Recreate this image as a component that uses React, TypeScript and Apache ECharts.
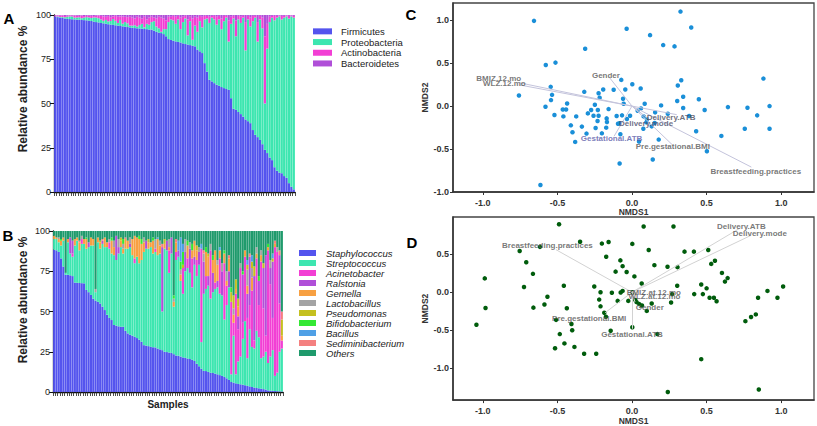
import React, { useEffect, useRef } from "react";
import * as echarts from "echarts";

const FONT = "'Liberation Sans', Arial, Helvetica, sans-serif";

// ---------- Panel A: phylum relative abundance (%) per sample ----------
const samples = Array.from({ length: 100 }, (_, i) => `S${i + 1}`);
const yTicksAB = [0, 25, 50, 75, 100];

const firmicutes = [99.2, 98.8, 98.5, 98.3, 98.0, 97.8, 97.7, 97.6, 97.5, 97.4, 97.3, 97.2, 97.1, 97.0, 96.8, 96.6, 96.3, 96.0, 95.8, 95.5, 95.3, 95.1, 94.8, 94.6, 94.4, 94.2, 94.0, 93.8, 93.6, 93.4, 93.2, 93.0, 92.8, 92.6, 92.5, 92.4, 92.3, 92.1, 92.0, 91.8, 91.7, 91.2, 90.5, 90.0, 89.8, 89.2, 88.0, 86.4, 85.9, 85.5, 85.1, 84.8, 84.5, 84.0, 83.6, 83.3, 83.0, 82.6, 82.3, 80.5, 79.5, 78.5, 72.8, 68.0, 63.4, 62.5, 61.5, 60.6, 60.0, 59.3, 58.7, 58.2, 57.7, 53.0, 47.0, 46.4, 45.2, 44.0, 42.6, 41.0, 40.0, 38.9, 35.0, 32.3, 31.0, 29.4, 27.0, 23.8, 22.0, 19.5, 18.0, 14.0, 12.0, 11.0, 10.6, 9.0, 8.0, 5.0, 3.0, 1.5];
const proteobacteria = [0, 0.4, 0.4, 0.5, 0.7, 1.2, 1.5, 1.6, 1.0, 1.2, 1.4, 1.0, 1.4, 1.8, 1.8, 1.7, 2.3, 2.6, 2.4, 2.0, 1.4, 2.1, 1.6, 2.0, 3.3, 2.5, 1.5, 3.4, 1.5, 2.6, 2.1, 1.0, 1.2, 1.6, 1.0, 1.9, 2.7, 0.9, 3.0, 2.7, 4.3, 5.3, 3.0, 2.5, 0.7, 2.8, 4.0, 9.6, 11.6, 11.5, 9.9, 12.7, 7.5, 12.0, 14.4, 5.2, 13.5, 3.4, 11.7, 10.0, 17.0, 14.5, 24.7, 30.0, 32.1, 36.0, 36.0, 33.9, 37.5, 32.7, 37.8, 40.3, 27.3, 42.0, 51.0, 41.6, 52.3, 51.5, 55.9, 39.0, 57.5, 54.6, 61.5, 66.2, 54.0, 68.1, 65.5, 26.2, 59.0, 76.5, 80.5, 83.0, 86.5, 88.2, 86.9, 89.5, 91.2, 93.0, 96.2, 97.0];
const actinobacteria = [0.5, 0.6, 0.8, 1.0, 0.8, 0.6, 0.5, 0.6, 1.2, 1.0, 0.8, 1.5, 0.9, 0.7, 1.0, 1.2, 0.8, 1.0, 1.5, 2.0, 2.5, 1.8, 3.0, 2.2, 1.5, 2.8, 3.5, 2.0, 4.0, 3.0, 3.5, 5.0, 4.5, 3.8, 5.5, 4.2, 3.0, 6.0, 2.5, 4.0, 3.0, 2.0, 4.5, 6.5, 8.0, 6.0, 5.0, 3.0, 1.5, 2.5, 4.0, 2.0, 6.5, 3.0, 1.5, 9.0, 2.5, 12.0, 5.0, 8.0, 3.0, 6.0, 2.0, 1.5, 3.5, 1.0, 2.0, 4.5, 2.0, 6.0, 3.0, 1.0, 12.0, 4.0, 1.5, 9.0, 2.0, 3.5, 1.0, 16.0, 2.0, 5.0, 3.0, 1.0, 11.0, 2.0, 6.0, 38.0, 14.0, 3.0, 1.0, 2.5, 1.0, 0.5, 2.0, 1.0, 0.5, 1.5, 0.5, 1.0];
const bacteroidetes = [0.3, 0.2, 0.3, 0.2, 0.5, 0.4, 0.3, 0.2, 0.3, 0.4, 0.5, 0.3, 0.6, 0.5, 0.4, 0.5, 0.6, 0.4, 0.3, 0.5, 0.8, 1.0, 0.6, 1.2, 0.8, 0.5, 1.0, 0.8, 0.9, 1.0, 1.2, 1.0, 1.5, 2.0, 1.0, 1.5, 2.0, 1.0, 2.5, 1.5, 1.0, 1.5, 2.0, 1.0, 1.5, 2.0, 3.0, 1.0, 1.0, 0.5, 1.0, 0.5, 1.5, 1.0, 0.5, 2.5, 1.0, 2.0, 1.0, 1.5, 0.5, 1.0, 0.5, 0.5, 1.0, 0.5, 0.5, 1.0, 0.5, 2.0, 0.5, 0.5, 3.0, 1.0, 0.5, 3.0, 0.5, 1.0, 0.5, 4.0, 0.5, 1.5, 0.5, 0.5, 4.0, 0.5, 1.5, 12.0, 5.0, 1.0, 0.5, 0.5, 0.5, 0.3, 0.5, 0.5, 0.3, 0.5, 0.3, 0.5];

const phylaNames = ["Firmicutes", "Proteobacteria", "Actinobacteria", "Bacteroidetes"];
const phylaColors = ["#5454ee", "#3de6b0", "#f23fd4", "#b04fd8"];

// ---------- Panel B: genus relative abundance (%) per sample ----------
const staphylococcus = [88.4, 88.0, 87.0, 83.0, 78.0, 72.8, 72.8, 72.5, 72.0, 68.0, 67.8, 67.7, 67.6, 67.5, 63.4, 62.0, 60.3, 58.0, 56.8, 56.0, 55.0, 53.0, 50.9, 48.0, 46.0, 44.7, 41.6, 41.2, 40.8, 40.5, 40.5, 38.0, 36.4, 35.5, 35.0, 34.3, 33.5, 32.5, 31.2, 29.1, 28.8, 28.5, 28.0, 27.8, 27.7, 27.0, 26.5, 26.0, 25.0, 24.8, 24.5, 24.3, 23.5, 22.7, 22.5, 22.0, 21.5, 21.2, 20.8, 20.5, 20.0, 19.3, 17.5, 16.0, 14.5, 13.1, 13.0, 12.5, 12.0, 11.8, 11.4, 11.0, 10.5, 10.0, 9.4, 8.5, 7.5, 6.2, 5.8, 5.4, 5.0, 4.8, 4.5, 4.2, 3.8, 3.5, 3.1, 2.8, 2.5, 2.3, 2.1, 1.8, 1.5, 1.0, 0.8, 0.7, 0.6, 0.5, 0.4, 0.3];
const streptococcus = [6.6, 7, 6, 8, 16, 1.2, 20.2, 13.5, 12, 23, 26.2, 20.3, 24.4, 24.5, 25.6, 28, 30.7, 33, 5.2, 37, 34, 39, 39.1, 42, 43, 41.3, 43.4, 40.8, 45.2, 49.5, 45.5, 51, 52.6, 54.5, 50, 45.7, 50.5, 47.5, 50.8, 57.9, 60.2, 60.5, 62, 58.2, 59.3, 58, 59.5, 24, 64, 63.2, 49.5, 61.7, 29.5, 59.3, 61.5, 47, 39.5, 53.8, 56.2, 53.5, 45, 59.7, 54.5, 63, 16.5, 47.9, 51, 53.5, 46, 50.2, 52.6, 54, 50.5, 50, 35.6, 45.5, 57.5, 4.8, 29.2, 5.6, 14, 17.2, 28.5, 39.8, 17.2, 35.5, 24.9, 24.2, 35.5, 31.7, 18.9, 20.2, 23.5, 17, 21.2, 25.3, 9.4, 11.5, 24.6, 26.7];
const acinetobacter = [0, 0, 0, 0, 0, 0, 0, 0, 2, 0, 0, 0, 3, 0, 0, 0, 0, 0, 0, 0, 0, 0, 0, 0, 4, 0, 0, 0, 0, 0, 0, 0, 0, 0, 0, 3, 0, 0, 0, 0, 0, 0, 0, 0, 2, 0, 0, 0, 0, 0, 14, 0, 0, 5, 0, 0, 16, 0, 6, 0, 18, 0, 10, 0, 58, 0, 8, 0, 30, 0, 4, 0, 22, 0, 35, 12, 0, 45, 8, 50, 20, 55, 10, 40, 25, 15, 35, 5, 45, 20, 60, 30, 10, 70, 45, 20, 80, 75, 30, 5];
const ralstonia = [0, 0, 0, 0, 0, 0, 0, 10, 8, 0, 0, 0, 0, 0, 0, 3, 0, 0, 0, 0, 0, 2, 0, 0, 0, 0, 0, 15, 4, 0, 0, 0, 0, 2, 0, 0, 0, 0, 0, 0, 5, 0, 0, 0, 0, 0, 0, 40, 0, 6, 0, 10, 0, 0, 4, 0, 0, 12, 0, 15, 0, 5, 0, 8, 0, 20, 0, 6, 0, 12, 0, 4, 0, 15, 0, 0, 10, 0, 0, 0, 8, 0, 30, 0, 15, 30, 0, 40, 0, 15, 0, 25, 50, 0, 10, 35, 0, 0, 30, 0];
const gemella = [2, 1, 2, 3, 2, 0, 2, 0, 0, 4, 2, 5, 0, 3, 6, 0, 5, 4, 0, 3, 4, 0, 6, 3, 0, 8, 5, 0, 0, 4, 3, 6, 5, 0, 10, 14, 12, 15, 10, 6, 0, 4, 3, 8, 0, 10, 5, 0, 3, 0, 2, 0, 3, 6, 0, 4, 0, 0, 8, 0, 5, 10, 6, 0, 0, 0, 15, 12, 0, 8, 20, 10, 5, 0, 6, 3, 8, 0, 5, 3, 6, 0, 0, 4, 5, 0, 8, 0, 3, 0, 4, 0, 0, 2, 0, 0, 2, 0, 0, 3];
const lactobacillus = [0, 0, 1, 0, 0, 0, 0, 0, 0, 0, 0, 0, 2, 0, 0, 0, 0, 0, 2, 0, 0, 0, 0, 0, 2, 0, 4, 0, 5, 0, 3, 0, 0, 4, 0, 0, 0, 0, 0, 3, 0, 0, 0, 0, 6, 0, 3, 0, 0, 0, 5, 0, 2, 0, 0, 3, 0, 8, 0, 4, 0, 0, 0, 3, 0, 5, 0, 0, 4, 0, 0, 3, 0, 5, 0, 6, 0, 0, 4, 0, 0, 3, 0, 0, 10, 0, 6, 0, 4, 0, 3, 0, 0, 0, 5, 0, 0, 3, 0, 0];
const pseudomonas = [0, 0, 0, 0, 0, 0, 0, 0, 0, 0, 0, 0, 0, 0, 0, 0, 0, 0, 0, 0, 1, 0, 0, 0, 0, 0, 0, 0, 0, 2, 0, 0, 0, 0, 0, 0, 0, 0, 0, 0, 0, 2, 0, 0, 0, 0, 0, 0, 3, 0, 0, 0, 0, 0, 0, 0, 2, 0, 0, 0, 0, 0, 3, 0, 0, 0, 0, 2, 0, 0, 0, 0, 0, 0, 0, 0, 0, 6, 8, 6, 5, 0, 0, 0, 3, 0, 4, 6, 0, 0, 0, 3, 0, 0, 0, 2, 0, 0, 0, 10];
const bifidobacterium = [0, 0, 0, 1, 0, 0, 0, 0, 0, 0, 0, 0, 0, 0, 1, 0, 0, 0, 0, 0, 0, 0, 0, 0, 0, 2, 0, 0, 0, 0, 3, 0, 0, 0, 0, 0, 0, 2, 3, 0, 0, 0, 0, 2, 0, 0, 0, 0, 0, 0, 0, 0, 2, 0, 0, 5, 8, 0, 3, 0, 4, 0, 0, 0, 0, 0, 3, 0, 0, 3, 0, 0, 0, 0, 2, 0, 0, 3, 0, 0, 0, 0, 2, 0, 0, 0, 0, 0, 0, 3, 0, 0, 0, 2, 0, 0, 0, 0, 0, 0];
const bacillus = [0, 0, 0, 0, 0, 0, 0, 0, 0, 0, 0, 0, 0, 0, 0, 0, 0, 0, 0, 0, 0, 0, 0, 0, 0, 0, 0, 0, 0, 0, 0, 0, 0, 0, 0, 0, 0, 0, 0, 0, 0, 0, 0, 0, 0, 1, 0, 0, 0, 0, 0, 0, 0, 0, 6, 15, 5, 0, 0, 0, 0, 0, 0, 0, 3, 0, 0, 0, 0, 0, 0, 0, 2, 0, 0, 0, 0, 0, 0, 0, 0, 0, 0, 0, 3, 0, 4, 0, 0, 0, 0, 0, 0, 0, 0, 3, 0, 0, 0, 0];
const sediminibacterium = [0, 0, 0, 0, 0, 0, 0, 0, 0, 0, 0, 1, 0, 0, 0, 0, 0, 0, 0, 0, 0, 1, 0, 0, 0, 0, 0, 0, 0, 0, 0, 1, 0, 0, 0, 0, 0, 0, 0, 0, 0, 0, 0, 0, 0, 0, 0, 2, 0, 0, 0, 0, 0, 2, 0, 0, 0, 0, 0, 0, 0, 0, 0, 0, 0, 2, 0, 0, 0, 0, 0, 0, 0, 0, 0, 0, 2, 0, 0, 0, 0, 0, 0, 0, 0, 2, 0, 0, 0, 0, 0, 0, 0, 0, 0, 0, 2, 0, 3, 5];
const others = [3, 4, 4, 5, 4, 26, 5, 4, 6, 5, 4, 6, 3, 5, 4, 7, 4, 5, 36, 4, 6, 5, 4, 7, 5, 4, 6, 3, 5, 4, 5, 4, 6, 4, 5, 3, 4, 3, 5, 4, 6, 5, 7, 4, 5, 4, 6, 8, 5, 6, 5, 4, 40, 5, 6, 4, 8, 5, 6, 7, 8, 6, 9, 10, 8, 12, 10, 14, 8, 15, 12, 18, 10, 20, 12, 25, 15, 35, 40, 30, 42, 20, 25, 12, 18, 14, 15, 22, 10, 28, 12, 20, 15, 8, 18, 14, 6, 10, 12, 50];

const generaNames = ["Staphylococcus", "Streptococcus", "Acinetobacter", "Ralstonia", "Gemella", "Lactobacillus", "Pseudomonas", "Bifidobacterium", "Bacillus", "Sediminibacterium", "Others"];
const generaColors = ["#5454ee", "#3de6b0", "#f23fd4", "#b04fd8", "#f7a042", "#a4a4a4", "#c4c020", "#34e834", "#4fa0e6", "#f48080", "#1f9a6c"];

// ---------- Panel C / D: NMDS site scores ----------
const nmdsTicks = [-1, -0.5, 0, 0.5, 1];
const sitesC = [[-0.657, 0.992], [-0.036, 0.9], [0.325, 1.1], [0.397, 0.915], [0.121, 0.826], [0.209, 0.71], [0.285, 0.695], [-0.314, 0.668], [-0.578, 0.479], [-0.513, 0.506], [0.881, 0.32], [0.33, 0.3], [0.307, 0.24], [-0.072, 0.305], [0.002, 0.255], [-0.045, 0.193], [0.058, 0.205], [-0.193, 0.193], [-0.224, 0.15], [-0.123, 0.19], [-0.32, 0.166], [-0.545, 0.224], [-0.536, 0.131], [-0.758, 0.124], [-0.543, 0.07], [-0.217, 0.097], [0.343, 0.108], [0.448, 0.08], [0.303, 0.06], [0.195, 0.008], [0.085, 0.027], [-0.06, 0.085], [-0.056, 0.027], [-0.435, 0.031], [-0.58, -0.008], [-0.249, 0.015], [-0.464, -0.039], [-0.442, -0.039], [-0.274, -0.046], [-0.229, -0.046], [-0.157, -0.035], [0.06, -0.027], [0.343, -0.023], [0.487, -0.046], [0.643, -0.012], [0.774, -0.019], [0.922, 0.0], [0.155, -0.073], [0.24, -0.089], [0.038, -0.054], [-0.52, -0.104], [-0.46, -0.12], [-0.374, -0.12], [-0.296, -0.085], [-0.258, -0.112], [-0.224, -0.112], [-0.103, -0.116], [-0.067, -0.108], [-0.013, -0.112], [0.078, -0.12], [0.383, -0.116], [0.839, -0.108], [-0.41, -0.224], [-0.231, -0.174], [-0.17, -0.143], [-0.168, -0.185], [-0.034, -0.15], [-0.094, -0.205], [-0.336, -0.239], [-0.244, -0.255], [-0.173, -0.251], [-0.399, -0.305], [-0.305, -0.32], [-0.202, -0.317], [-0.078, -0.328], [0.076, -0.263], [0.132, -0.236], [0.152, -0.197], [-0.381, -0.417], [0.047, -0.413], [0.179, -0.39], [0.43, -0.293], [0.599, -0.347], [0.756, -0.263], [0.922, -0.263], [0.502, -0.525], [0.139, -0.622], [-0.083, -0.668], [-0.614, -0.919], [-0.083, -0.2], [0.1, -0.154], [0.096, -0.189]];
const sitesD = [[-0.489, 0.894], [0.078, 0.864], [0.278, 0.864], [-0.753, 0.542], [-0.617, 0.597], [-0.348, 0.665], [-0.202, 0.64], [-0.157, 0.661], [0.002, 0.636], [0.112, 0.555], [0.352, 0.534], [0.415, 0.534], [0.511, 0.555], [-0.173, 0.466], [-0.078, 0.419], [-0.063, 0.343], [-0.709, 0.394], [0.15, 0.356], [0.238, 0.335], [0.305, 0.33], [0.556, 0.415], [0.531, 0.373], [-0.11, 0.271], [-0.036, 0.267], [0.016, 0.208], [-0.987, 0.182], [-0.664, 0.242], [0.603, 0.254], [0.641, 0.186], [0.623, 0.14], [0.065, 0.114], [-0.253, 0.076], [-0.457, 0.085], [-0.724, 0.068], [0.303, 0.085], [0.464, 0.102], [0.5, 0.051], [1.013, 0.076], [-0.063, 0.017], [-0.076, -0.004], [-0.211, 0.0], [-0.135, -0.008], [0.002, 0.0], [-0.567, -0.059], [-0.22, -0.097], [-0.096, -0.114], [-0.025, -0.114], [0.417, -0.025], [0.475, -0.025], [0.52, -0.072], [0.549, -0.072], [0.567, -0.119], [0.269, -0.025], [0.262, -0.136], [0.845, -0.072], [0.908, 0.017], [0.975, -0.072], [-0.587, -0.161], [-0.661, -0.203], [-0.982, -0.208], [-0.437, -0.212], [-0.211, -0.186], [-0.186, -0.271], [-0.175, -0.322], [0.022, -0.102], [0.031, -0.131], [0.049, -0.157], [0.067, -0.174], [0.132, -0.148], [0.099, -0.246], [0.002, -0.462], [-0.509, -0.364], [-0.406, -0.419], [-0.401, -0.5], [-0.143, -0.508], [-1.043, -0.428], [-0.484, -0.551], [-0.453, -0.674], [-0.386, -0.72], [-0.516, -0.737], [-0.321, -0.809], [-0.24, -0.809], [0.17, -0.551], [0.76, -0.381], [0.798, -0.326], [0.83, -0.292], [0.464, -0.881], [0.24, -1.314], [0.85, -1.28]];

// envfit vectors: name, arrow tip, label position
const vectorNamesC = ["BMIZ.12.mo", "WLZ.12.mo", "Gender", "Delivery.ATB", "Delivery.mode", "Gestational.ATB", "Pre.gestational.BMI", "Breastfeeding.practices"];
const vectorTipsC = [[-0.75, 0.27], [-0.75, 0.245], [-0.15, 0.33], [0.3, -0.1], [0.12, -0.16], [-0.12, -0.35], [0.27, -0.45], [0.8, -0.71]];
const vectorLabelsC = [[-0.893, 0.317], [-0.856, 0.264], [-0.175, 0.36], [0.262, -0.127], [0.094, -0.197], [-0.137, -0.375], [0.274, -0.475], [0.83, -0.757]];

const vectorNamesD = ["Breastfeeding.practices", "Delivery.ATB", "Delivery.mode", "BMIZ.at.12.mo", "WLZ.at.12.mo", "Gender", "Pre.gestational.BMI", "Gestational.ATB"];
const vectorTipsD = [[-0.51, 0.56], [0.73, 0.85], [0.8, 0.75], [0.03, -0.01], [0.03, -0.03], [0.02, -0.13], [-0.18, -0.27], [0.0, -0.48]];
const vectorLabelsD = [[-0.567, 0.614], [0.733, 0.86], [0.857, 0.775], [0.146, -0.008], [0.15, -0.059], [0.119, -0.195], [-0.287, -0.347], [0.0, -0.551]];

const fmt1 = (v: number) => (Math.abs(v) < 1e-9 ? "0.0" : v.toFixed(1));

function barAxes(grid: number) {
  return {
    x: {
      type: "category",
      gridIndex: grid,
      data: samples,
      axisLine: { lineStyle: { color: "#111", width: 1.3 } },
      axisTick: { show: true, interval: 0, length: 4, lineStyle: { color: "#222", width: 0.8 } },
      axisLabel: { show: false },
    },
    y: {
      type: "value",
      gridIndex: grid,
      min: 0,
      max: 100,
      interval: 25,
      axisLine: { show: true, lineStyle: { color: "#111", width: 1.3 } },
      axisTick: { show: true, length: 4, lineStyle: { color: "#111" } },
      axisLabel: { fontSize: 9, color: "#222", margin: 3, customValues: yTicksAB },
      splitLine: { show: false },
    },
  };
}

function nmdsAxes(grid: number, ymin: number, ymax: number, yTicks: number[]) {
  const axisCommon = {
    axisLine: { show: true, onZero: false, lineStyle: { color: "#333", width: 1.5 } },
    axisTick: { show: true, length: 3, customValues: [] as number[], lineStyle: { color: "#333" } },
    axisLabel: { fontSize: 9, fontWeight: "bold", color: "#333", formatter: fmt1, customValues: [] as number[] },
    splitLine: { show: false },
    nameLocation: "middle",
    nameTextStyle: { fontSize: 8.5, fontWeight: "bold", color: "#333" },
  };
  return {
    x: {
      ...axisCommon,
      type: "value",
      gridIndex: grid,
      min: -1.2,
      max: 1.22,
      name: "NMDS1",
      nameGap: 12,
      axisTick: { ...axisCommon.axisTick, customValues: nmdsTicks },
      axisLabel: { ...axisCommon.axisLabel, customValues: nmdsTicks, margin: 6 },
    },
    y: {
      ...axisCommon,
      type: "value",
      gridIndex: grid,
      min: ymin,
      max: ymax,
      name: "NMDS2",
      nameGap: 22,
      axisTick: { ...axisCommon.axisTick, customValues: yTicks },
      axisLabel: { ...axisCommon.axisLabel, customValues: yTicks, margin: 4 },
    },
  };
}

function nmdsSeries(axisIdx: number, sites: number[][], color: string, size: number, names: string[], tips: number[][], labels: number[][], lineColor: string, labelColors: string[]) {
  return [
    {
      type: "scatter",
      xAxisIndex: axisIdx,
      yAxisIndex: axisIdx,
      data: sites,
      symbolSize: size,
      itemStyle: { color, opacity: 1 },
      z: 3,
      silent: true,
    },
    {
      type: "lines",
      coordinateSystem: "cartesian2d",
      xAxisIndex: axisIdx,
      yAxisIndex: axisIdx,
      data: tips.map((t) => ({ coords: [[0, 0], t] })),
      lineStyle: { color: lineColor, width: 1, opacity: 1 },
      z: 4,
      silent: true,
    },
    {
      type: "scatter",
      xAxisIndex: axisIdx,
      yAxisIndex: axisIdx,
      data: labels.map((p, i) => ({
        name: names[i],
        value: p,
        label: { color: labelColors[i] },
      })),
      symbolSize: 1,
      itemStyle: { color: "rgba(0,0,0,0)" },
      label: {
        show: true,
        position: "inside",
        formatter: "{b}",
        fontSize: 8,
        fontWeight: "bold",
        color: "#555",
      },
      z: 5,
      silent: true,
    },
  ];
}

export default function App() {
  const ref = useRef<HTMLDivElement>(null);

  useEffect(() => {
    document.body.style.margin = "0";
    if (!ref.current) return;
    const chart = echarts.init(ref.current, undefined, { renderer: "svg" });

    const aAx = barAxes(0);
    const bAx = barAxes(1);
    const cAx = nmdsAxes(2, -1.0, 1.2, nmdsTicks);
    const dAx = nmdsAxes(3, -1.42, 0.99, [-1, -0.5, 0, 0.5]);

    const phylaData = [firmicutes, proteobacteria, actinobacteria, bacteroidetes];
    const generaData = [staphylococcus, streptococcus, acinetobacter, ralstonia, gemella, lactobacillus, pseudomonas, bifidobacterium, bacillus, sediminibacterium, others];

    const seriesA = phylaNames.map((n, i) => ({
      name: n,
      type: "bar",
      stack: "phyla",
      xAxisIndex: 0,
      yAxisIndex: 0,
      data: phylaData[i],
      barCategoryGap: "8%",
      itemStyle: { color: phylaColors[i] },
      silent: true,
    }));
    const seriesB = generaNames.map((n, i) => ({
      name: n,
      type: "bar",
      stack: "genera",
      xAxisIndex: 1,
      yAxisIndex: 1,
      data: generaData[i],
      barCategoryGap: "8%",
      clip: true,
      itemStyle: { color: generaColors[i] },
      silent: true,
    }));

    const labelColC = ["#555", "#555", "#555", "#4a4a5a", "#4a4a6a", "#5a5aa8", "#555", "#555"];
    const labelColD = ["#555", "#555", "#555", "#555", "#555", "#555", "#555", "#555"];

    const option: any = {
      animation: false,
      textStyle: { fontFamily: FONT },
      grid: [
        { left: 54, top: 15, width: 241, height: 177 },
        { left: 53, top: 231, width: 230, height: 161 },
        { left: 453, top: 3, width: 361, height: 189, show: true, borderColor: "#444", borderWidth: 1.3 },
        { left: 453, top: 217, width: 361, height: 190, show: true, borderColor: "#444", borderWidth: 1.3 },
      ],
      xAxis: [aAx.x, bAx.x, cAx.x, dAx.x],
      yAxis: [aAx.y, bAx.y, cAx.y, dAx.y],
      legend: [
        {
          data: phylaNames,
          orient: "vertical",
          left: 308,
          top: 21,
          itemWidth: 19,
          itemHeight: 6,
          itemGap: 0,
          icon: "rect",
          selectedMode: false,
          textStyle: { fontSize: 9.5, color: "#222", lineHeight: 10.7, padding: [0, 0, 0, 4] },
        },
        {
          data: generaNames,
          orient: "vertical",
          left: 294,
          top: 243,
          itemWidth: 17,
          itemHeight: 6,
          itemGap: 0,
          icon: "rect",
          selectedMode: false,
          textStyle: { fontSize: 9.5, fontStyle: "italic", color: "#222", lineHeight: 9.6, padding: [0, 0, 0, 5] },
        },
      ],
      graphic: [
        { type: "text", x: 9, y: 18, style: { text: "A", font: `bold 15px ${FONT}`, fill: "#000", align: "center", verticalAlign: "middle", textAlign: "center", textVerticalAlign: "middle" } },
        { type: "text", x: 8, y: 235, style: { text: "B", font: `bold 15px ${FONT}`, fill: "#000", align: "center", verticalAlign: "middle", textAlign: "center", textVerticalAlign: "middle" } },
        { type: "text", x: 411, y: 14, style: { text: "C", font: `bold 15px ${FONT}`, fill: "#000", align: "center", verticalAlign: "middle", textAlign: "center", textVerticalAlign: "middle" } },
        { type: "text", x: 412, y: 242, style: { text: "D", font: `bold 15px ${FONT}`, fill: "#000", align: "center", verticalAlign: "middle", textAlign: "center", textVerticalAlign: "middle" } },
        { type: "text", x: 23, y: 89, rotation: Math.PI / 2, style: { text: "Relative abundance %", font: `bold 12px ${FONT}`, fill: "#222", align: "center", verticalAlign: "middle", textAlign: "center", textVerticalAlign: "middle" } },
        { type: "text", x: 23, y: 300, rotation: Math.PI / 2, style: { text: "Relative abundance %", font: `bold 12px ${FONT}`, fill: "#222", align: "center", verticalAlign: "middle", textAlign: "center", textVerticalAlign: "middle" } },
        { type: "text", x: 168, y: 404, style: { text: "Samples", font: `bold 10px ${FONT}`, fill: "#222", align: "center", verticalAlign: "middle", textAlign: "center", textVerticalAlign: "middle" } },
      ],
      series: [
        ...seriesA,
        ...seriesB,
        ...nmdsSeries(2, sitesC, "#1a8fd8", 4.5, vectorNamesC, vectorTipsC, vectorLabelsC, "#c4c4dc", labelColC),
        ...nmdsSeries(3, sitesD, "#005c0c", 4.5, vectorNamesD, vectorTipsD, vectorLabelsD, "#d2d2d2", labelColD),
      ],
    };

    chart.setOption(option);
    return () => chart.dispose();
  }, []);

  return <div ref={ref} style={{ width: 817, height: 426 }} />;
}
